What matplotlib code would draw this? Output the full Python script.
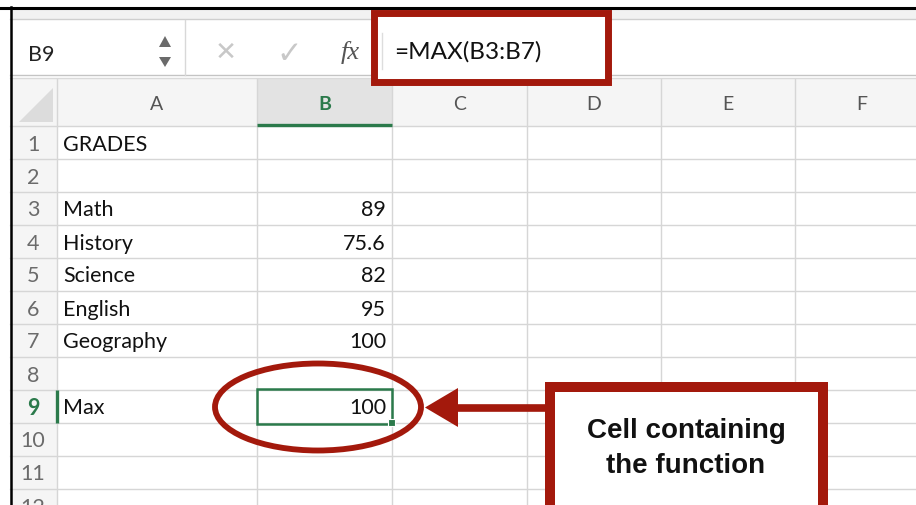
import matplotlib.pyplot as plt
from matplotlib.patches import Rectangle, Ellipse, Polygon

# Sheet contents
columns = ['A', 'B', 'C', 'D', 'E', 'F']
subjects = ['Math', 'History', 'Science', 'English', 'Geography']
grades = [89, 75.6, 82, 95, 100]
title_cell = 'GRADES'
max_label = 'Max'
formula = '=MAX(B3:B7)'
active_cell = 'B9'
callout = 'Cell containing\nthe function'
n_rows = 12

# Layout in pixels
W, H = 916, 506
col_edges = [57, 257, 392, 527, 661, 795, 929]
head_top, head_bot = 80, 127
row_h = 33
red = '#a3190c'
green = '#2b7a4b'
grid = '#d6d6d6'

fig = plt.figure(figsize=(W / 100, H / 100), dpi=100)
ax = fig.add_axes([0, 0, 1, 1])
ax.set_xlim(0, W)
ax.set_ylim(H, 0)
ax.axis('off')

cell_font = 'Lato'
fs = 15.5

# toolbar strip and formula bar
ax.add_patch(Rectangle((10, 9), W, 11, fc='#f2f2f2', ec='none'))
ax.plot([10, W], [20, 20], color='#cfcfcf', lw=1)
ax.plot([10, W], [76, 76], color='#c4c4c4', lw=1)
ax.plot([10, W], [79, 79], color='#dadada', lw=1)
ax.plot([185, 185], [21, 76], color='#d8d8d8', lw=1)

ax.text(28, 55, active_cell, fontsize=fs, family=cell_font, va='center', color='#222222')
ax.add_patch(Polygon([[159, 48], [171, 48], [165, 37]], fc='#6a6a6a', ec='none'))
ax.add_patch(Polygon([[159, 58], [171, 58], [165, 68]], fc='#6a6a6a', ec='none'))
ax.text(226, 53, '\u2715', fontsize=19, ha='center', va='center', color='#c8c8c8', family='DejaVu Sans')
ax.text(289, 54, '\u2713', fontsize=22, ha='center', va='center', color='#c8c8c8', family='DejaVu Sans')
ax.text(350, 52, 'fx', fontsize=19, ha='center', va='center', color='#555555',
        family='Liberation Serif', fontstyle='italic')

# header row
ax.add_patch(Rectangle((10, head_top), W, head_bot - head_top, fc='#f5f5f5', ec='none'))
ax.add_patch(Rectangle((col_edges[1], head_top), col_edges[2] - col_edges[1], head_bot - head_top,
                       fc='#e3e3e3', ec='none'))
ax.add_patch(Polygon([[19, 123], [53, 89], [53, 123]], fc='#dcdcdc', ec='none'))
for i, c in enumerate(columns):
    xc = (col_edges[i] + col_edges[i + 1]) / 2
    if c == 'B':
        ax.text(xc, 104, c, fontsize=14, family=cell_font, ha='center', va='center',
                color=green, fontweight='bold')
    else:
        ax.text(xc, 104, c, fontsize=14, family=cell_font, ha='center', va='center', color='#555555')
ax.plot([col_edges[1], col_edges[2]], [125.5, 125.5], color=green, lw=2.4, solid_capstyle='butt', zorder=3)

# row header column
ax.add_patch(Rectangle((10, head_bot), col_edges[0] - 10, H, fc='#f5f5f5', ec='none'))

# grid
for k in range(n_rows + 1):
    y = head_bot + row_h * k
    ax.plot([10, W], [y, y], color=grid, lw=1)
for x in col_edges:
    ax.plot([x, x], [head_top, H], color=grid, lw=1)

# cell contents
cells = {1: (title_cell, '')}
for i, (s, g) in enumerate(zip(subjects, grades)):
    cells[3 + i] = (s, f'{g:g}')
cells[9] = (max_label, f'{max(grades):g}')

for r in range(1, n_rows + 1):
    yc = head_bot + row_h * (r - 0.5) + 1
    if r == 9:
        ax.text(33, yc, str(r), fontsize=fs, family=cell_font, ha='center', va='center',
                color=green, fontweight='bold')
    else:
        ax.text(33, yc, str(r), fontsize=fs, family=cell_font, ha='center', va='center', color='#6b6b6b')
    if r in cells:
        lab, val = cells[r]
        ax.text(63, yc, lab, fontsize=fs, family=cell_font, ha='left', va='center', color='#111111')
        ax.text(386, yc, val, fontsize=fs, family=cell_font, ha='right', va='center', color='#111111')

# selected cell
y9 = head_bot + row_h * 8
ax.plot([57, 57], [y9, y9 + row_h], color=green, lw=2.4, solid_capstyle='butt')
ax.add_patch(Rectangle((col_edges[1], y9 - 1), col_edges[2] - col_edges[1], row_h + 2,
                       fc='none', ec=green, lw=1.8, zorder=4))
ax.add_patch(Rectangle((388, y9 + row_h - 4), 7, 7, fc=green, ec='white', lw=0.8, zorder=5))

# frame
ax.plot([0, W], [8.5, 8.5], color='black', lw=2.2, zorder=6)
ax.plot([10.5, 10.5], [8, H], color='black', lw=1.8, zorder=6)

# annotations
ax.add_patch(Rectangle((373.5, 13.5), 234, 69, fc='white', ec=red, lw=5, zorder=7))
ax.plot([382, 382], [34, 70], color='#dddddd', lw=1, zorder=8)
ax.text(394, 52, formula, fontsize=17.5, family=cell_font, va='center', color='#111111', zorder=8)

ax.add_patch(Ellipse((318, 408), 206, 87, fc='none', ec=red, lw=4.2, zorder=7))
ax.plot([548, 452], [408.5, 408.5], color=red, lw=5.5, solid_capstyle='butt', zorder=7)
ax.add_patch(Polygon([[425, 408.5], [458, 389], [458, 428]], fc=red, ec='none', zorder=7))

ax.add_patch(Rectangle((550, 388), 273, 140, fc='white', ec=red, lw=7.2, zorder=7))
ax.text(686, 449, callout, fontsize=20, family='Liberation Sans', fontweight='bold',
        ha='center', va='center', linespacing=1.45, color='#111111', zorder=8)

fig.savefig('out.png', dpi=100)
